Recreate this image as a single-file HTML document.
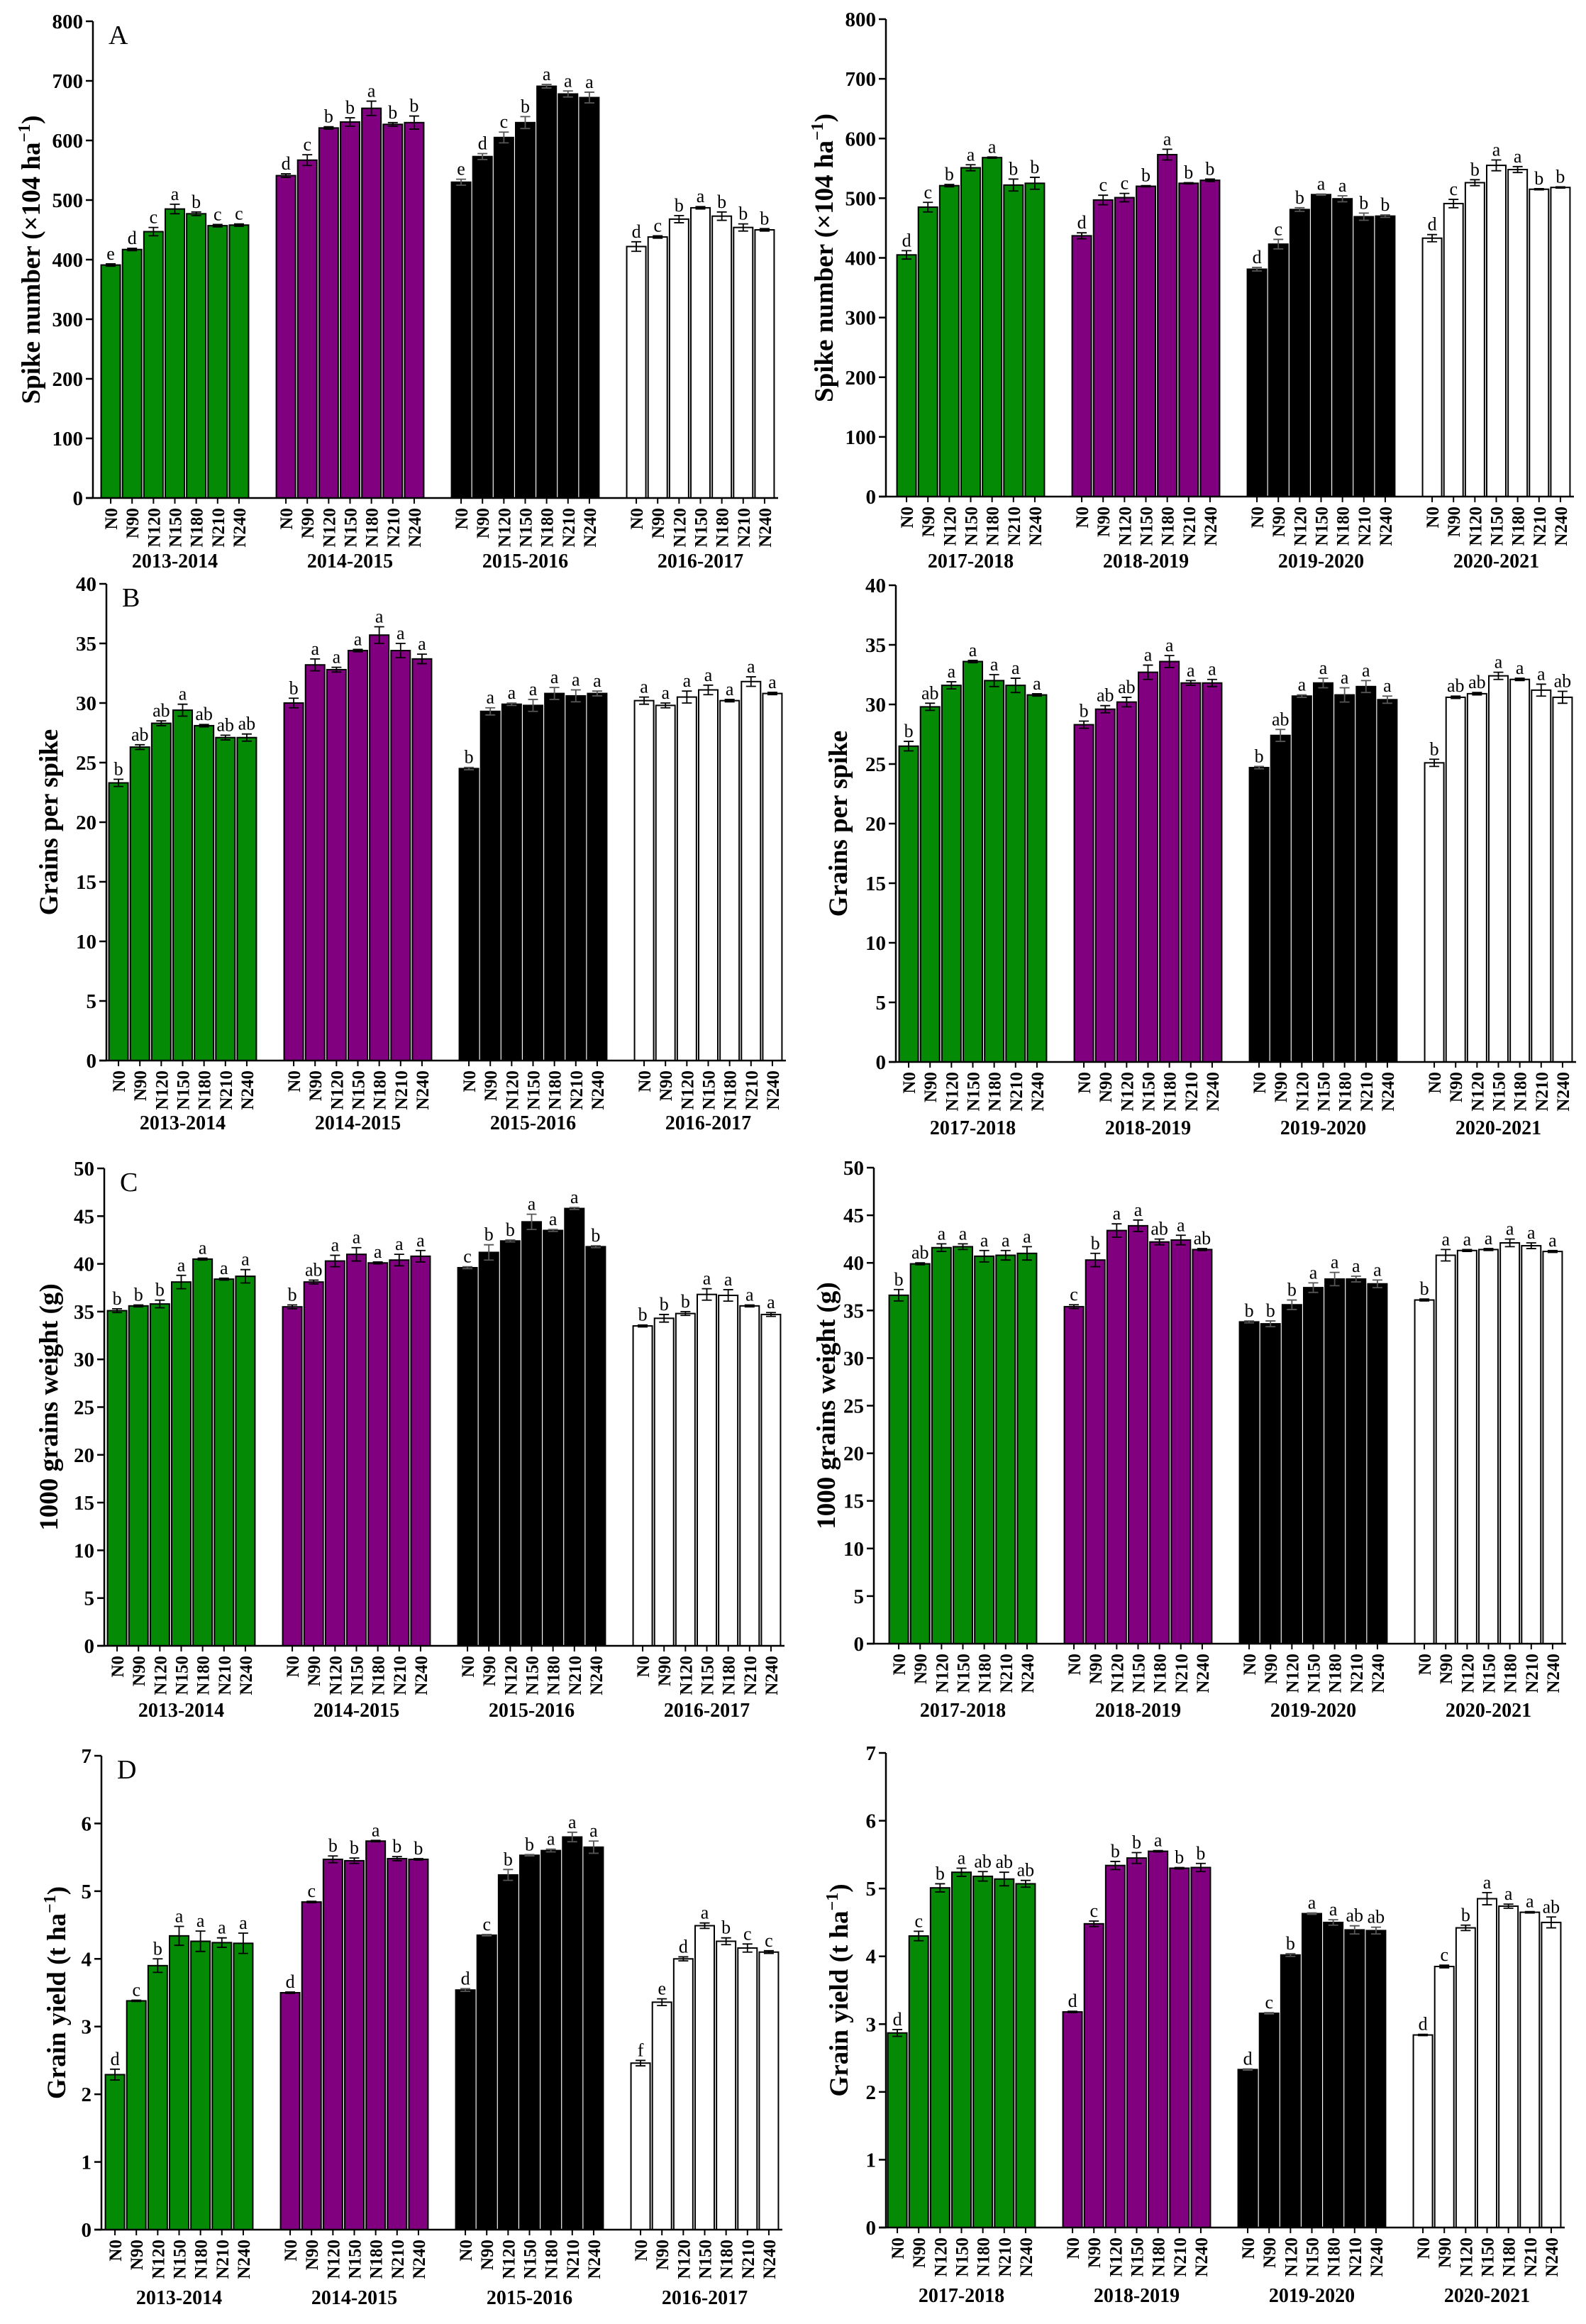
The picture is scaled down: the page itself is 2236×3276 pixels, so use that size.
<!DOCTYPE html>
<html><head><meta charset="utf-8"><style>
html,body{margin:0;padding:0;background:#fff}
svg{display:block;font-family:"Liberation Serif",serif}
</style></head><body>
<svg id="fig" width="2236" height="3276" viewBox="0 0 2236 3276" xmlns="http://www.w3.org/2000/svg"></svg>
<script>
const treatments=["N0","N90","N120","N150","N180","N210","N240"];
const seasonsLeft=["2013-2014","2014-2015","2015-2016","2016-2017"];
const seasonsRight=["2017-2018","2018-2019","2019-2020","2020-2021"];
const groupColors=["#058a05","#800080","#000000","#ffffff"];

const spikeLeft=[391,417,447,485,477,457,458, 541,567,621,631,654,627,630, 530,573,605,630,691,678,672, 422,438,468,487,473,454,450];
const spikeLeftErr=[2,2,7,8,3,2,2, 3,9,2,7,12,3,11, 5,5,9,10,3,5,9, 8,2,6,2,7,6,2];
const spikeLeftSig=["e","d","c","a","b","c","c","d","c","b","b","a","b","b","e","d","c","b","a","a","a","d","c","b","a","b","b","b"];
const spikeRight=[405,485,521,551,568,522,525, 437,497,501,520,573,525,530, 381,423,481,506,499,469,470, 433,491,526,555,548,515,518];
const spikeRightErr=[7,8,2,5,1,10,10, 5,8,7,1,9,1,2, 3,8,3,1,5,6,2, 6,7,5,9,5,1,1];
const spikeRightSig=["d","c","b","a","a","b","b","d","c","c","b","a","b","b","d","c","b","a","a","b","b","d","c","b","a","a","b","b"];

const grainsLeft=[23.3,26.3,28.3,29.4,28.1,27.1,27.1, 30.0,33.2,32.8,34.4,35.7,34.4,33.7, 24.5,29.3,29.9,29.8,30.8,30.6,30.8, 30.2,29.8,30.5,31.1,30.2,31.8,30.8];
const grainsLeftErr=[0.3,0.2,0.2,0.5,0.1,0.2,0.3, 0.4,0.5,0.2,0.1,0.7,0.6,0.4, 0.1,0.3,0.1,0.5,0.5,0.5,0.2, 0.3,0.2,0.5,0.4,0.1,0.4,0.1];
const grainsLeftSig=["b","ab","ab","a","ab","ab","ab","b","a","a","a","a","a","a","b","a","a","a","a","a","a","a","a","a","a","a","a","a"];
const grainsRight=[26.5,29.8,31.6,33.6,32.0,31.6,30.8, 28.3,29.6,30.2,32.7,33.6,31.8,31.8, 24.7,27.4,30.7,31.8,30.8,31.5,30.4, 25.1,30.6,30.9,32.4,32.1,31.2,30.6];
const grainsRightErr=[0.4,0.3,0.3,0.1,0.5,0.6,0.1, 0.3,0.3,0.4,0.6,0.5,0.2,0.3, 0.1,0.5,0.1,0.4,0.6,0.5,0.3, 0.3,0.1,0.1,0.3,0.1,0.5,0.5];
const grainsRightSig=["b","ab","a","a","a","a","a","b","ab","ab","a","a","a","a","b","ab","a","a","a","a","a","b","ab","ab","a","a","a","ab"];

const tgwLeft=[35.1,35.6,35.8,38.1,40.5,38.4,38.7, 35.5,38.1,40.3,41.0,40.1,40.4,40.8, 39.6,41.2,42.4,44.4,43.5,45.8,41.8, 33.5,34.3,34.8,36.8,36.7,35.6,34.7];
const tgwLeftErr=[0.2,0.1,0.4,0.7,0.1,0.1,0.7, 0.2,0.2,0.6,0.7,0.1,0.6,0.6, 0.1,0.8,0.1,0.8,0.1,0.1,0.1, 0.1,0.4,0.2,0.6,0.6,0.1,0.2];
const tgwLeftSig=["b","b","b","a","a","a","a","b","ab","a","a","a","a","a","c","b","b","a","a","a","b","b","b","b","a","a","a","a"];
const tgwRight=[36.6,39.9,41.6,41.7,40.7,40.8,41.0, 35.4,40.3,43.4,43.9,42.2,42.4,41.4, 33.8,33.6,35.6,37.4,38.3,38.3,37.8, 36.1,40.8,41.3,41.4,42.1,41.8,41.2];
const tgwRightErr=[0.6,0.1,0.4,0.3,0.6,0.5,0.7, 0.2,0.7,0.7,0.6,0.3,0.5,0.1, 0.1,0.3,0.5,0.5,0.7,0.3,0.4, 0.1,0.6,0.1,0.1,0.4,0.3,0.1];
const tgwRightSig=["b","ab","a","a","a","a","a","c","b","a","a","ab","a","ab","b","b","b","a","a","a","a","b","a","a","a","a","a","a"];

const yieldLeft=[2.29,3.38,3.90,4.34,4.26,4.24,4.23, 3.50,4.84,5.47,5.45,5.74,5.48,5.47, 3.54,4.35,5.24,5.53,5.60,5.80,5.65, 2.46,3.36,4.00,4.49,4.26,4.16,4.10];
const yieldLeftErr=[0.08,0.01,0.1,0.14,0.15,0.07,0.15, 0.01,0.01,0.05,0.04,0.01,0.03,0.01, 0.02,0.01,0.08,0.01,0.02,0.07,0.09, 0.04,0.05,0.03,0.04,0.05,0.06,0.02];
const yieldLeftSig=["d","c","b","a","a","a","a","d","c","b","b","a","b","b","d","c","b","b","a","a","a","f","e","d","a","b","c","c"];
const yieldRight=[2.87,4.30,5.01,5.24,5.18,5.14,5.07, 3.18,4.48,5.34,5.45,5.55,5.30,5.31, 2.33,3.16,4.02,4.63,4.50,4.39,4.38, 2.84,3.85,4.42,4.85,4.74,4.65,4.50];
const yieldRightErr=[0.05,0.07,0.06,0.06,0.07,0.1,0.05, 0.01,0.04,0.06,0.08,0.01,0.01,0.06, 0.01,0.01,0.02,0.01,0.04,0.06,0.05, 0.01,0.02,0.04,0.09,0.03,0.01,0.08];
const yieldRightSig=["d","c","b","a","ab","ab","ab","d","c","b","b","a","b","b","d","c","b","a","a","ab","ab","d","c","b","a","a","a","ab"];

const yTicks40=[0,5,10,15,20,25,30,35,40];
const yTicks50=[0,5,10,15,20,25,30,35,40,45,50];
const yTicks800=[0,100,200,300,400,500,600,700,800];
const yTicks7=[0,1,2,3,4,5,6,7];

const NS="http://www.w3.org/2000/svg";
const svg=document.getElementById('fig');
function mk(tag,attrs,parent){const e=document.createElementNS(NS,tag);for(const k in attrs)e.setAttribute(k,attrs[k]);(parent||svg).appendChild(e);return e;}

const panels=[
 {id:"spike-left",ax:131,g0:141,y0:702,yt:30,max:800,ticks:yTicks800,vals:spikeLeft,err:spikeLeftErr,sig:spikeLeftSig,seasons:seasonsLeft,title:"Spike number (×104 ha",sup:true,tx:43,ly:790,letter:"A"},
 {id:"spike-right",ax:1249,g0:1263,y0:700,yt:27,max:800,ticks:yTicks800,vals:spikeRight,err:spikeRightErr,sig:spikeRightSig,seasons:seasonsRight,title:"Spike number (×104 ha",sup:true,tx:1161,ly:790,letter:""},
 {id:"grains-left",ax:150,g0:152,y0:1495,yt:823,max:40,ticks:yTicks40,vals:grainsLeft,err:grainsLeftErr,sig:grainsLeftSig,seasons:seasonsLeft,title:"Grains per spike",sup:false,tx:68,ly:1582,letter:"B"},
 {id:"grains-right",ax:1263,g0:1266,y0:1497,yt:825,max:40,ticks:yTicks40,vals:grainsRight,err:grainsRightErr,sig:grainsRightSig,seasons:seasonsRight,title:"Grains per spike",sup:false,tx:1181,ly:1589,letter:""},
 {id:"tgw-left",ax:147,g0:150,y0:2320,yt:1647,max:50,ticks:yTicks50,vals:tgwLeft,err:tgwLeftErr,sig:tgwLeftSig,seasons:seasonsLeft,title:"1000 grains weight (g)",sup:false,tx:68,ly:2410,letter:"C"},
 {id:"tgw-right",ax:1232,g0:1252,y0:2317,yt:1646,max:50,ticks:yTicks50,vals:tgwRight,err:tgwRightErr,sig:tgwRightSig,seasons:seasonsRight,title:"1000 grains weight (g)",sup:false,tx:1164,ly:2410,letter:""},
 {id:"yield-left",ax:143,g0:147,y0:3143,yt:2475,max:7,ticks:yTicks7,vals:yieldLeft,err:yieldLeftErr,sig:yieldLeftSig,seasons:seasonsLeft,title:"Grain yield (t ha",sup:true,tx:79,ly:3238,letter:"D"},
 {id:"yield-right",ax:1249,g0:1250,y0:3140,yt:2471,max:7,ticks:yTicks7,vals:yieldRight,err:yieldRightErr,sig:yieldRightSig,seasons:seasonsRight,title:"Grain yield (t ha",sup:true,tx:1182,ly:3235,letter:""}
];
const GSTEP=247, GW=211, SLOT=GW/7, BW=27;

panels.forEach(p=>{
  const g=mk('g',{});
  
  
  const yS=v=>p.y0-(v/p.max)*(p.y0-p.yt);
  const xEnd=p.g0+3*GSTEP+GW+4;
  // bars
  p.vals.forEach((v,i)=>{
    const gi=Math.floor(i/7), ti=i%7;
    const cx=p.g0+gi*GSTEP+SLOT*ti+SLOT/2;
    const r=mk('rect',{x:cx-BW/2,y:yS(v),width:BW,height:p.y0-yS(v),fill:groupColors[gi],stroke:"#000","stroke-width":2},g);
    
    
    const e=p.err[i];
    const eb=mk('path',{d:`M${cx},${yS(v+e)}V${yS(v-e)}M${cx-7},${yS(v+e)}H${cx+7}M${cx-7},${yS(v-e)}H${cx+7}`,stroke:gi===2?"#555":"#000","stroke-width":1.8,fill:"none"},g);
    
    
    const s=mk('text',{x:cx,y:yS(v+e)-6,"text-anchor":"middle","font-size":26,fill:"#000"},g);
    s.textContent=p.sig[i];
    
    
    // x tick + label
    mk('line',{x1:cx,x2:cx,y1:p.y0,y2:p.y0+8,stroke:"#000","stroke-width":2},g);
    const tl=mk('text',{transform:`translate(${cx+9},${p.y0+14}) rotate(-90)`,"text-anchor":"end","font-size":25,"font-weight":"bold"},g);
    tl.textContent=treatments[ti];
    
    
  });
  // axes
  const ya=mk('line',{x1:p.ax,x2:p.ax,y1:p.yt,y2:p.y0,stroke:"#000","stroke-width":2.5},g);
  
  
  const xa=mk('line',{x1:p.ax-10,x2:xEnd,y1:p.y0,y2:p.y0,stroke:"#000","stroke-width":2.5},g);
  
  
  p.ticks.forEach(t=>{
    mk('line',{x1:p.ax-10,x2:p.ax,y1:yS(t),y2:yS(t),stroke:"#000","stroke-width":2.5},g);
    const tt=mk('text',{x:p.ax-14,y:yS(t)+10,"text-anchor":"end","font-size":29,"font-weight":"bold"},g);
    tt.textContent=t;
    
    
  });
  p.seasons.forEach((s,gi)=>{
    const st=mk('text',{x:p.g0+gi*GSTEP+GW/2,y:p.ly+10,"text-anchor":"middle","font-size":28,"font-weight":"bold"},g);
    st.textContent=s;
    
    
  });
  const ymid=(p.y0+p.yt)/2;
  const ttl=mk('text',{transform:`translate(${p.tx+13},${ymid}) rotate(-90)`,"text-anchor":"middle","font-size":37,"font-weight":"bold"},g);
  ttl.textContent=p.title;
  if(p.sup){
    const sp=mk('tspan',{dy:-14,"font-size":24},ttl); sp.textContent="−1";
    const cl=mk('tspan',{dy:14},ttl); cl.textContent=")";
  }
  
  
  if(p.letter){
    const L=mk('text',{x:p.ax+22,y:p.yt+32,"font-size":38},g);
    L.textContent=p.letter;
    
    
  }
});
</script>
</body></html>
